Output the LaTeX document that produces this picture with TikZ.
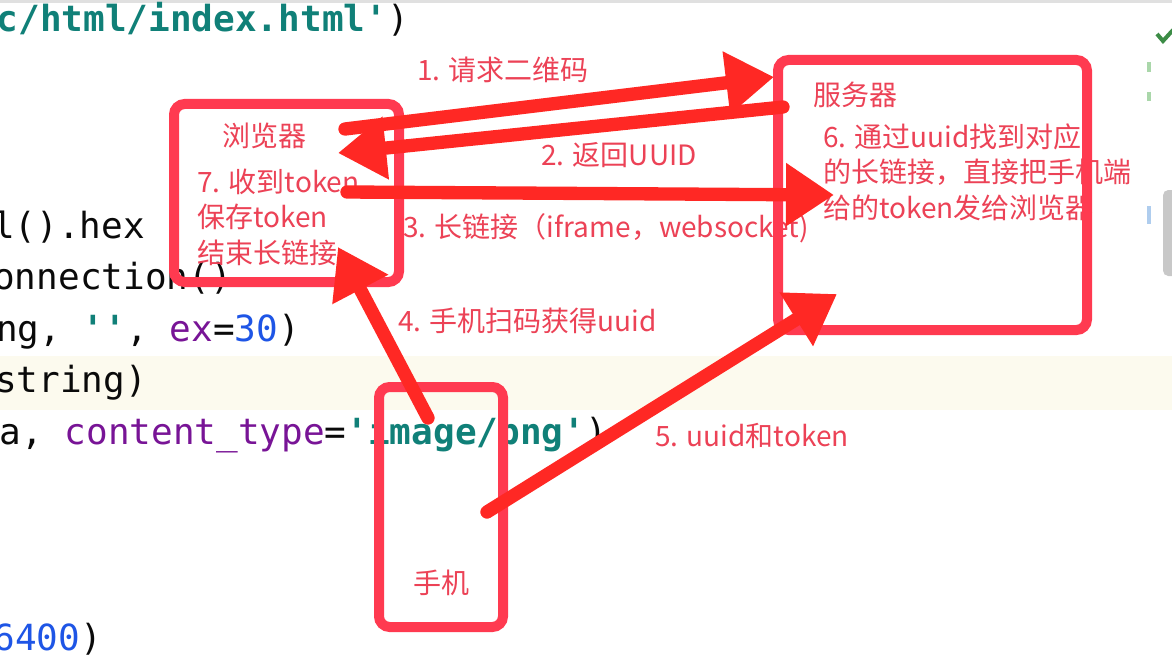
\documentclass[tikz,border=0pt]{standalone}
\usepackage{fontspec}
\setmonofont{DejaVu Sans Mono}
\newfontfamily\cjk{Noto Sans CJK SC}
\usetikzlibrary{arrows.meta,fit}

\definecolor{boxred}{RGB}{255,58,80}
\definecolor{arrowred}{RGB}{255,40,36}
\definecolor{notered}{RGB}{236,66,86}
\definecolor{codeblack}{RGB}{10,10,10}
\definecolor{strteal}{RGB}{16,128,120}
\definecolor{kwpurple}{RGB}{120,20,150}
\definecolor{numblue}{RGB}{30,85,230}
\definecolor{rowhl}{RGB}{252,250,238}
\definecolor{gutgreen}{RGB}{170,215,170}
\definecolor{gutblue}{RGB}{175,205,238}
\definecolor{checkgreen}{RGB}{60,140,70}
\definecolor{scrollgray}{RGB}{200,200,200}

\tikzset{
  codeline/.style={anchor=base east,inner sep=0pt,text=codeblack,
    font=\ttfamily\fontsize{27pt}{32pt}\selectfont},
  note/.style={anchor=west,inner sep=0pt,align=left,text=notered,
    font=\cjk\fontsize{21pt}{26.6pt}\selectfont},
  box/.style={draw=boxred,line width=7.5pt,rounded corners=8pt,inner sep=0pt},
  flow/.style={draw=arrowred,line width=10pt,line cap=round,
    -{Triangle[length=36pt,width=45pt]}},
}

\begin{document}
\begin{tikzpicture}[x=0.75pt,y=-0.75pt]
  \useasboundingbox (0,0) rectangle (1172,660);
  \fill[white] (0,0) rectangle (1172,660);
  \fill[rowhl] (0,356) rectangle (1172,410);
  \fill[black!12] (0,0) rectangle (1172,3);

  % code in the background
  \node[codeline] (code0) at (409,32) {\textcolor{strteal}{\textbf{c/html/index.html'}})};
  \node[codeline] (code4) at (145,238) {l().hex};
  \node[codeline] (code5) at (232,289.5) {onnection()};
  \node[codeline] (code6) at (300,341) {ng, \textcolor{strteal}{\textbf{''}}, \textcolor{kwpurple}{ex}=\textcolor{numblue}{30})};
  \node[codeline] (code7) at (147,392.5) {string)};
  \node[codeline] (code8) at (607,444) {a, \textcolor{kwpurple}{content\_type}=\textcolor{strteal}{\textbf{'image/png'}})};
  \node[codeline] (code12) at (102,650) {\textcolor{numblue}{6400})};

  % editor gutter
  \draw[gutgreen,line width=2.5pt] (1149,62) -- (1149,72);
  \draw[gutgreen,line width=2.5pt] (1149,92) -- (1149,101);
  \draw[gutblue,line width=2.5pt] (1149,206) -- (1149,224);
  \fill[scrollgray,rounded corners=4pt] (1163,190) rectangle (1182,276);
  \draw[checkgreen,line width=3pt] (1157,34) -- (1163,41) -- (1173,30);

  % labels
  \node[note] (lbl-qr) at (417,70) {1. 请求二维码};
  \node[note] (lbl-uuid) at (541,155) {2. 返回UUID};
  \node[note] (lbl-link) at (403,228) {3. 长链接（iframe，websocket)};
  \node[note] (lbl-scan) at (398,321) {4. 手机扫码获得uuid};
  \node[note] (lbl-token) at (655,436) {5. uuid和token};
  \node[note] (txt-browser) at (222,136) {浏览器};
  \node[note] (txt-recv) at (197,217) {7. 收到token\\保存token\\结束长链接};
  \node[note] (txt-server) at (813,95) {服务器};
  \node[note] (txt-find) at (823,172) {6. 通过uuid找到对应\\的长链接，直接把手机端\\给的token发给浏览器};
  \node[note] (txt-phone) at (413,583) {手机};

  % boxes
  \node[box,fit={(174,104) (399,282)}] (browser) {};
  \node[box,fit={(778,60) (1087,330)}] (server) {};
  \node[box,fit={(379,387) (503,627)}] (phone) {};

  % arrow ends
  \coordinate (qr-from) at (345,129);
  \coordinate (qr-to) at (774,77);
  \coordinate (uuid-from) at (783,107);
  \coordinate (uuid-to) at (338,153);
  \coordinate (link-from) at (347,192);
  \coordinate (link-to) at (834,195);
  \coordinate (scan-from) at (428,418);
  \coordinate (scan-to) at (338,247);
  \coordinate (token-from) at (487,512);
  \coordinate (token-to) at (837,294);

  \draw[flow] (qr-from) -- (qr-to);
  \draw[flow] (uuid-from) -- (uuid-to);
  \draw[flow] (link-from) -- (link-to);
  \draw[flow] (scan-from) -- (scan-to);
  \draw[flow] (token-from) -- (token-to);
\end{tikzpicture}
\end{document}
